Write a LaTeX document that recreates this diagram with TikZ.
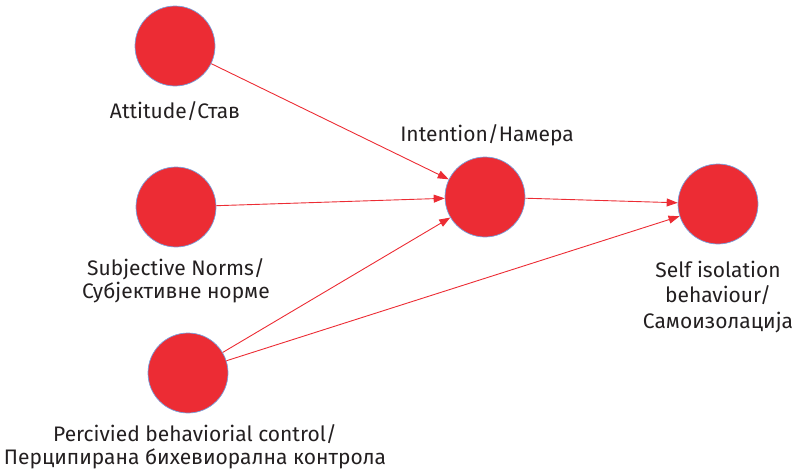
\documentclass[tikz,border=0pt]{standalone}
\usepackage{fontspec}
\setmainfont{Fira Sans}
\usetikzlibrary{arrows.meta}
\definecolor{cred}{RGB}{236,44,52}
\definecolor{cblue}{RGB}{120,160,220}
\definecolor{ctext}{RGB}{35,31,32}
\begin{document}
\begin{tikzpicture}[x=1pt,y=-1pt,
  ball/.style={circle,fill=cred,draw=cblue,line width=0.7pt,minimum size=80pt,inner sep=0pt},
  lab/.style={font=\fontsize{21}{23}\selectfont,align=center,text=ctext,inner sep=0pt},
  conn/.style={draw=cred,line width=0.9pt,-{Triangle[length=11pt,width=8pt]}}]
\useasboundingbox (0,0) rectangle (797,471);
\node[ball] (att) at (175,46) {};
\node[ball] (sub) at (176,207) {};
\node[ball] (per) at (188,373) {};
\node[ball] (int) at (485,197) {};
\node[ball] (self) at (718,204) {};
\node[lab] (latt) at (175,111) {Attitude/Став};
\node[lab] (lint) at (487,135) {Intention/Намера};
\node[lab] (lsub) at (176,281) {Subjective Norms/\\Субјективне норме};
\node[lab,font=\fontsize{21}{25.5}\selectfont] (lself) at (718,297) {Self isolation\\behaviour/\\Самоизолација};
\node[lab] (lper) at (195,447) {Percivied behaviorial control/\\Перципирана бихевиорална контрола};
\draw[conn] (att) -- (int);
\draw[conn] (sub) -- (int);
\draw[conn] (per) -- (int);
\draw[conn] (int) -- (self);
\draw[conn] (per) -- (self);
\end{tikzpicture}
\end{document}
